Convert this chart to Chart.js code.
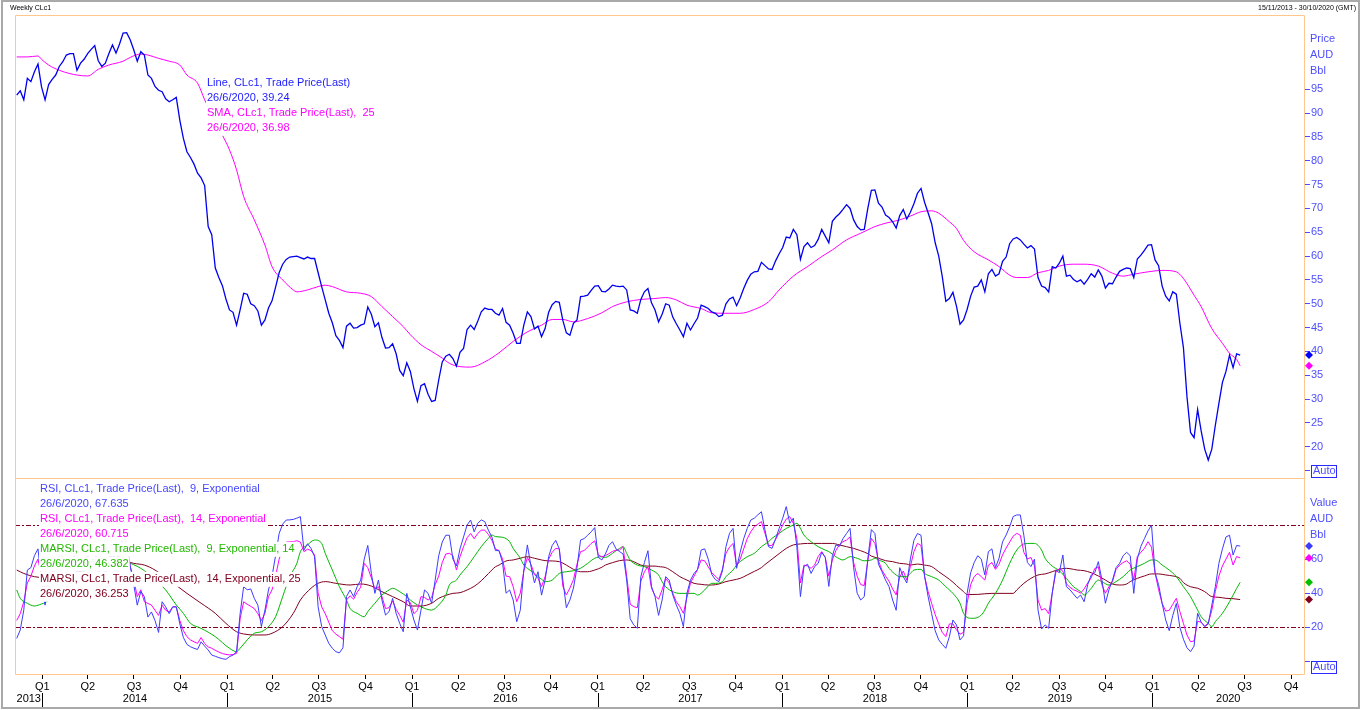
<!DOCTYPE html>
<html>
<head>
<meta charset="utf-8">
<title>Weekly CLc1</title>
<script src="https://cdn.jsdelivr.net/npm/chart.js@4.4.1/dist/chart.umd.min.js"></script>
<style>
  html, body { margin: 0; padding: 0; background: #fff; overflow: hidden; }
  #wrap { position: relative; width: 1362px; height: 710px; }
</style>
</head>
<body>
<div id="wrap"><canvas id="clc1" width="1362" height="710"></canvas></div>
<script>
/*
  Weekly CLc1 (crude oil, AUD/Bbl) with 25 week SMA,
  and RSI 9 / RSI 14 with their moving averages underneath.
  Weekly closes, first one 15/11/2013, range ends 30/10/2020.
*/

const startDate = Date.UTC(2013, 10, 15);
const endDate = Date.UTC(2020, 9, 30);

/* weekly closes, one per week from startDate */
const priceLine = [
  93.8, 94.7, 92.8, 97.3, 96.6, 98.7, 100.3, 95.5, 92.8, 96.0,
  97.1, 98.0, 99.8, 100.8, 102.2, 102.5, 102.5, 99.0, 100.5, 101.3,
  102.5, 103.4, 104.2, 101.0, 99.8, 100.5, 102.5, 104.3, 102.6, 104.5,
  106.8, 106.9, 105.4, 103.3, 100.9, 102.9, 102.2, 98.0, 97.3, 95.6,
  94.8, 94.5, 93.0, 92.4, 92.8, 93.3, 88.5, 84.7, 81.9, 80.7,
  79.3, 77.4, 76.4, 74.8, 66.2, 64.5, 57.5, 55.5, 53.8, 51.0,
  48.7, 48.2, 45.5, 48.7, 52.2, 52.0, 50.0, 49.6, 48.5, 45.5,
  46.6, 49.1, 50.6, 53.5, 56.5, 58.3, 59.3, 59.8, 59.9, 60.0,
  59.7, 59.4, 59.8, 59.5, 59.5, 56.5, 53.6, 50.8, 48.0, 46.0,
  43.3, 42.3, 40.8, 45.3, 45.9, 44.9, 45.0, 45.5, 45.8, 49.3,
  47.8, 45.2, 46.0, 42.9, 40.7, 40.8, 41.6, 39.5, 36.0, 34.9,
  37.6, 35.8, 32.2, 29.5, 32.8, 33.2, 31.0, 29.5, 29.7, 34.0,
  37.8, 39.0, 39.4, 38.5, 36.9, 39.8, 40.6, 44.6, 45.5, 44.6,
  46.3, 48.3, 49.1, 48.8, 48.8, 48.0, 47.6, 49.0, 46.1, 45.5,
  43.8, 41.7, 41.7, 45.5, 48.3, 47.3, 44.7, 45.3, 43.1, 44.8,
  48.2, 49.8, 50.5, 50.3, 46.5, 43.9, 43.4, 45.9, 46.6, 51.5,
  51.6, 51.8, 52.8, 53.7, 53.8, 52.6, 52.5, 53.1, 53.9, 53.7,
  53.6, 53.7, 52.9, 48.7, 48.5, 48.0, 50.9, 52.5, 53.2, 50.2,
  48.7, 46.2, 47.8, 50.0, 49.7, 47.2, 45.8, 44.5, 43.1, 45.9,
  44.5, 45.8, 47.0, 49.7, 49.4, 49.0, 48.3, 48.0, 47.3, 47.6,
  50.0, 51.0, 51.4, 49.6, 51.2, 53.2, 54.9, 56.2, 56.7, 56.8,
  58.7, 58.0, 57.3, 57.2, 59.0, 60.5, 61.8, 64.0, 63.8, 65.6,
  64.5, 59.3, 62.0, 62.8, 61.8, 62.2, 63.5, 65.6, 64.2, 62.8,
  67.3, 68.2, 68.9, 69.8, 70.8, 70.0, 67.6, 66.2, 65.5, 65.6,
  70.0, 73.8, 73.9, 71.1, 70.3, 68.6, 68.1, 67.2, 65.9, 68.5,
  69.8, 67.8, 69.2, 71.0, 73.2, 74.2, 71.3, 69.1, 66.8, 62.8,
  60.0, 55.7, 50.5, 51.1, 52.4, 49.5, 45.7, 46.6, 48.8, 51.6,
  53.5, 53.7, 55.0, 52.5, 56.3, 57.2, 55.8, 56.3, 58.9, 59.8,
  62.6, 63.6, 63.9, 63.4, 62.5, 61.7, 62.2, 61.5, 55.5, 53.7,
  53.4, 52.5, 57.8, 57.5, 58.5, 60.0, 55.8, 56.0, 55.1, 54.6,
  55.0, 54.1, 55.1, 56.3, 55.6, 57.1, 55.8, 53.3, 54.3, 54.2,
  55.6, 56.8, 57.2, 57.5, 57.4, 55.5, 59.4, 60.2, 61.2, 62.3,
  62.4, 59.2, 58.0, 53.7, 51.6, 50.6, 52.5, 52.0, 45.9, 40.8,
  30.5, 23.0, 21.9, 27.8, 23.3, 19.5, 17.2, 19.5, 24.5, 29.1,
  33.5, 35.8, 39.2, 36.6, 39.5, 39.24
];

/* 25 week SMA, read as [week, value] */
const priceSMA25 = [
  [0, 101.8], [3, 101.8], [6, 102.0], [7, 101.3], [9, 100.1], [12, 99.0], [15, 98.3],
  [17, 98.0], [20, 97.8], [23, 99.2], [26, 100.1], [30, 100.9], [32, 101.7], [35, 102.4],
  [37, 102.2], [40, 101.5], [43, 100.9], [46, 100.1], [48, 98.0], [51, 96.3], [53, 92.8],
  [58, 85.4], [60, 82.3], [62, 78.1], [64, 72.5], [67, 67.6], [70, 62.3], [72, 57.8],
  [75, 55.0], [78, 52.9], [79, 52.5], [82, 52.9], [85, 53.6], [87, 53.9], [89, 53.6],
  [93, 52.5], [97, 52.2], [100, 51.5], [103, 49.4], [106, 47.3], [109, 45.2], [111, 43.5],
  [114, 41.4], [117, 40.0], [120, 38.6], [122, 37.5], [125, 36.8], [128, 36.7], [132, 37.8],
  [136, 39.7], [140, 42.1], [144, 44.1], [148, 45.5], [151, 46.7], [154, 46.7], [157, 46.2],
  [161, 46.9], [165, 48.1], [168, 49.4], [172, 50.4], [176, 50.9], [180, 51.1], [183, 51.3],
  [186, 50.8], [189, 49.7], [193, 49.0], [196, 48.1], [200, 48.0], [204, 48.0], [208, 48.8],
  [212, 50.4], [215, 52.9], [219, 55.8], [223, 57.8], [227, 59.9], [230, 61.3], [234, 63.4],
  [238, 64.8], [240, 65.5], [242, 66.2], [245, 66.9], [249, 67.6], [252, 68.4], [255, 69.3],
  [258, 69.5], [260, 69.0], [263, 67.2], [265, 65.8], [267, 63.3], [270, 60.9], [274, 59.2],
  [277, 57.8], [280, 56.0], [282, 55.5], [285, 55.5], [288, 56.5], [291, 57.0], [294, 57.9],
  [298, 58.3], [301, 58.3], [305, 57.9], [309, 56.4], [312, 55.8], [315, 56.2], [319, 56.7],
  [323, 57.0], [327, 56.7], [329, 55.3], [332, 51.8], [334, 49.4], [337, 44.8], [340, 41.7],
  [342, 39.6], [344, 38.3], [345, 36.98]
];

/* RSI 9 and RSI 14 (exponential), one per week */
const rsi9 = [
  13.5, 18.4, 30.1, 53.6, 55, 62, 66, 47, 33, 45,
  50, 55, 62, 65, 70, 68, 66, 48, 56, 55,
  63, 67, 68, 52, 46, 50, 60, 66, 58, 66,
  72, 70, 56, 45, 33, 41, 38, 26, 29, 24,
  17, 35, 32, 28, 32, 32, 22, 14, 10, 8.6,
  7.7, 7.0, 11.5, 9, 6.7, 3.7, 3.0, 2.2, 1.6, 1.2,
  2.8, 3.7, 5.7, 28, 43.8, 42, 42.5, 37, 33, 20.4,
  30.1, 41.9, 50, 62, 75, 80.5, 82.9, 83, 83.3, 84,
  84.9, 65.3, 69, 66.3, 61.4, 32, 20.4, 15.5, 10.6, 7.7,
  5.7, 5.0, 8, 38, 41.9, 38.0, 43.8, 47.7, 60, 68,
  51.6, 39.9, 47.7, 36.0, 27.2, 29.2, 37.0, 28.2, 22.3, 17.4,
  39.9, 32.1, 24.3, 18.4, 30, 41.9, 39.9, 34.1, 47.7, 62,
  70, 74, 74, 60, 56, 66, 73, 80, 82.9, 76,
  81, 83, 82, 77, 73, 65, 65, 58, 40, 41.9,
  36.0, 23.3, 30, 53.6, 68.3, 56, 46, 52.6, 38.9, 47.7,
  61.4, 68, 71, 66, 47.7, 31.5, 36, 43, 55, 71.2,
  72, 74, 76, 78.5, 61, 59.5, 63, 68, 70.2, 66,
  64.4, 63, 47.7, 25, 21.4, 19.4, 49.7, 58, 64.9, 44,
  38.0, 27, 36, 49.7, 47.7, 39, 33.1, 28.2, 20.4, 40,
  47.7, 51.6, 54, 65.3, 66, 60, 51, 48, 46.8, 53,
  67.3, 75.1, 78, 54.6, 64, 72, 78, 82.9, 84, 86,
  87.8, 77.1, 67.3, 66.3, 72, 78, 84, 90.8, 81, 84,
  67, 38, 55.6, 57, 51.6, 55.6, 57.5, 64, 61, 44,
  62, 68.3, 67.5, 72, 75, 78, 55, 40, 36, 38,
  60, 77.3, 75, 57, 52.6, 47.7, 43.8, 36, 30, 55,
  49.7, 46, 60, 71, 75, 74, 50, 38, 28, 18,
  12.6, 10, 7.7, 14.5, 24.3, 21.4, 12.6, 15, 39.9, 52,
  58, 62, 60, 50.7, 64.4, 66, 55, 60.5, 70.2, 74.1,
  79, 85, 85.9, 85.9, 74, 58, 55.6, 60, 30.1, 19,
  21.4, 19.4, 40, 53.6, 52, 62.4, 43.8, 42, 39.5, 37,
  38.9, 35, 45, 50.7, 52, 58.5, 48, 34.1, 42, 47.7,
  55, 57.5, 62, 64, 62, 39.9, 60, 67.5, 72, 76.5,
  80, 52, 45, 34, 24.3, 18, 27, 34, 20, 13,
  8, 5.7, 9, 28.2, 23, 20.4, 22, 33, 43.8, 57.5,
  66, 73, 74, 62.4, 68, 67.635
];

const rsi14 = [
  24, 28, 35, 46, 50, 56, 60, 50, 42, 48,
  52, 55, 60, 62, 66, 65, 64, 52, 57, 56,
  61, 64, 65, 54, 50, 53, 59, 63, 57, 63,
  68, 68, 56, 48, 38, 42, 35, 34, 33, 30,
  27, 33, 30, 29, 32, 32, 24, 18, 14.5, 12.6,
  11.5, 10.6, 14, 10.5, 8.5, 7.7, 6.5, 5.5, 4.6, 4.1,
  3.8, 4, 4.7, 25, 35, 33.5, 32.3, 31, 28, 24,
  28.2, 38, 42, 50, 60, 66, 70, 70.2, 70.2, 70.8,
  70, 64.4, 65.8, 65, 62.4, 40, 32, 28, 23, 18,
  16, 14.5, 13, 36, 38.5, 36.5, 40.5, 43.5, 57.5, 55,
  49, 42.5, 43.8, 38, 31, 31.5, 35.5, 30.5, 27, 23,
  36, 34.5, 28, 30, 38, 37.5, 36, 37.5, 45, 50,
  58, 63, 63.4, 62, 53.6, 61.4, 67.3, 72.5, 75, 72,
  75, 77, 77, 74.5, 71, 66, 65, 60, 50, 49.7,
  43.8, 35, 40, 53, 61, 57, 51, 48.7, 43.8, 49.7,
  60, 64, 66.3, 66, 44, 39, 43, 48, 57, 64.4,
  65, 67, 69.2, 70.7, 62.4, 61.4, 62, 63.2, 64.5, 65.3,
  65.3, 67.3, 50, 33.5, 32.1, 31.5, 47, 52.6, 55.6, 43,
  38.5, 36.5, 42, 48.7, 46, 40, 35, 32.1, 28.2, 37.5,
  46, 50, 54, 59.5, 59, 55.5, 52, 50, 48, 54,
  63.4, 67, 69.2, 56, 60, 66, 72, 76, 79, 80.5,
  82, 75.1, 68, 68, 71.5, 75.5, 80, 83.5, 84.9, 81,
  72, 46, 56.5, 56, 54.6, 56.5, 61.5, 64.4, 61, 50,
  59.5, 65, 68.5, 70.2, 71.2, 73, 58, 50, 45, 44.5,
  59, 72.2, 69.2, 59, 53.5, 50, 47, 42.5, 39, 49.7,
  53, 47.7, 55.6, 64.4, 69.2, 68, 50, 41, 34, 27.5,
  22, 17, 14.5, 22, 22, 18.5, 16, 17, 34, 45,
  49.7, 51.6, 49.7, 47.7, 56.5, 58, 54, 57, 62.5, 66.5,
  70, 73.5, 75.1, 74, 64, 60, 61, 56, 36, 30.1,
  31, 28, 40, 52, 54.5, 53, 45.5, 43.5, 42, 41.2,
  40, 42.5, 46, 49, 54.5, 55.5, 45, 40, 43.8, 46.8,
  54, 56.5, 58, 59, 57, 48, 61.5, 64, 66.3, 70.2,
  67, 52, 42, 34, 29.5, 30, 33.5, 37, 29.2, 22.3,
  15.5, 11.5, 12, 23.5, 23, 20.6, 22.5, 30, 41, 50,
  56, 60, 64, 56.5, 61.5, 60.715
];

/* moving averages of the RSIs, read as [week, value] */
const marsi9 = [
  [0, 41.9], [1, 37.0], [3, 34.1], [5, 32.5], [7, 33.7], [8, 34.5], [12, 40], [16, 48],
  [20, 54], [24, 58], [28, 59], [32, 57.5], [36, 53.2], [42, 41.9], [45, 33.1], [47, 28.2],
  [49, 22.3], [52, 19.4], [56, 14.5], [60, 7.7], [62, 5.7], [63, 7.7], [65, 12.6], [67, 16.5],
  [69, 17.4], [71, 20.4], [73, 26.2], [75, 38.0], [77, 49.7], [79, 57.5], [80, 64.4], [82, 68.3],
  [84, 71.2], [86, 69.2], [87, 63.4], [89, 53.6], [91, 43.8], [93, 36.0], [94, 31.1], [96, 28.2],
  [98, 26.2], [99, 29.2], [101, 34.1], [103, 38.9], [105, 41.9], [106, 42.9], [108, 40.9],
  [110, 38.0], [111, 36.0], [113, 33.1], [115, 31.1], [117, 30.1], [119, 33.1], [121, 38.9],
  [122, 44.8], [124, 47.7], [125, 50.7], [127, 55.6], [129, 61.4], [131, 67.3], [133, 72.2],
  [134, 74.1], [135, 73.2], [137, 72.8], [139, 70.2], [140, 66.3], [142, 60.5], [143, 56.5],
  [144, 54.6], [146, 51.6], [148, 48.1], [149, 46.8], [151, 47.7], [153, 51.6], [155, 52.6],
  [157, 53.2], [159, 54.6], [161, 57.5], [163, 60.5], [165, 61.4], [166, 61.0], [168, 63.4],
  [170, 66.3], [171, 67.3], [172, 63.4], [173, 59.5], [175, 56.5], [177, 55.6], [179, 53.6],
  [181, 50.7], [182, 46.8], [183, 43.8], [185, 40.9], [187, 39.9], [189, 39.9], [191, 39.9],
  [192, 38.9], [194, 41.9], [195, 44.2], [196, 45.8], [197, 45.8], [199, 46.8], [200, 49.7],
  [202, 53.6], [203, 56.5], [204, 58.5], [206, 61.4], [208, 63.4], [210, 67.3], [212, 70.2],
  [213, 72.2], [215, 75.1], [217, 78.0], [219, 80.0], [220, 81.0], [221, 78.0], [222, 74.1],
  [224, 70.2], [226, 67.3], [228, 65.3], [229, 64.4], [231, 61.4], [233, 59.5], [235, 61.4],
  [237, 60.5], [239, 59.0], [241, 59.5], [242, 60.5], [243, 59.5], [245, 57.5], [246, 54.6],
  [248, 50.7], [249, 49.7], [251, 49.7], [252, 51.6], [253, 53.6], [255, 54.0], [256, 51.6],
  [258, 49.7], [260, 47.7], [262, 43.8], [264, 39.9], [266, 34.1], [267, 28.2], [269, 25.3],
  [270, 25.3], [272, 27.2], [273, 30.1], [274, 34.1], [276, 39.9], [278, 47.7], [280, 57.5],
  [282, 65.3], [284, 68.9], [286, 69.2], [287, 69.2], [289, 65.3], [290, 60.5], [292, 55.9],
  [294, 53.2], [296, 48.7], [298, 43.8], [300, 40.9], [301, 38.9], [303, 42.9], [305, 47.7],
  [306, 46.8], [308, 44.8], [310, 46.8], [312, 49.7], [314, 53.6], [316, 55.6], [318, 57.5],
  [320, 59.5], [321, 59.5], [323, 56.5], [325, 53.6], [327, 49.7], [329, 43.8], [331, 38.0],
  [333, 30.1], [334, 26.2], [336, 22.3], [337, 20.4], [338, 23.3], [340, 28.2], [342, 35.0],
  [344, 42.8], [345, 46.382]
];

const marsi14 = [
  [0, 53.6], [2, 51.6], [5, 49.7], [10, 49], [15, 51], [20, 54], [25, 56.5], [28, 58],
  [31, 58.5], [33, 57.5], [36, 56.5], [39, 53.6], [48, 39.9], [52, 34.1], [56, 28.2],
  [59, 22.3], [62, 17.4], [64, 16.1], [67, 15.5], [70, 15.5], [72, 16.5], [75, 20.4],
  [78, 28.2], [80, 36.0], [83, 42.9], [85, 45.8], [87, 46.8], [90, 45.8], [94, 44.8],
  [97, 45.4], [100, 44.2], [103, 40.9], [106, 38.0], [109, 35.0], [111, 32.5], [114, 32.5],
  [117, 34.1], [119, 37.0], [121, 38.7], [123, 39.9], [125, 40.3], [127, 41.9], [129, 44.0],
  [131, 47.3], [133, 51.5], [135, 55.5], [136, 56.5], [138, 58.9], [140, 59.5], [142, 60.5],
  [144, 61.4], [146, 60.5], [148, 59.5], [149, 59.1], [151, 58.9], [153, 58.5], [155, 56.5],
  [157, 54.0], [159, 52.6], [161, 52.6], [163, 53.6], [165, 55.2], [166, 56.5], [168, 57.9],
  [170, 59.1], [172, 59.5], [174, 58.5], [176, 56.5], [178, 55.9], [180, 55.9], [181, 55.6],
  [183, 55.0], [185, 52.6], [187, 49.7], [189, 47.7], [191, 45.8], [193, 45.2], [195, 44.8],
  [196, 44.8], [198, 45.4], [200, 46.8], [202, 47.7], [204, 48.7], [206, 50.7], [208, 52.8],
  [210, 55.0], [211, 56.8], [213, 60.0], [215, 63.2], [217, 66.3], [219, 68.3], [221, 68.9],
  [223, 69.2], [227, 69.2], [230, 69.2], [232, 68.3], [234, 67.3], [236, 66.3], [238, 64.9],
  [240, 63.2], [241, 61.8], [243, 60.5], [245, 59.1], [247, 58.5], [249, 57.5], [251, 57.1],
  [252, 56.5], [254, 57.1], [256, 56.5], [258, 55.6], [260, 52.6], [262, 49.7], [264, 46.5],
  [265, 44.5], [267, 40.9], [268, 39.2], [271, 39.3], [275, 39.9], [279, 39.9], [281, 39.9],
  [282, 41.9], [284, 45.8], [286, 48.7], [288, 50.7], [290, 51.3], [292, 52.6], [294, 54.0],
  [296, 54.6], [298, 54.0], [299, 53.6], [301, 53.2], [303, 52.0], [305, 50.1], [307, 47.7],
  [309, 45.4], [311, 44.8], [313, 45.4], [314, 46.8], [316, 48.7], [318, 50.1], [320, 51.3],
  [322, 51.3], [324, 50.7], [326, 50.1], [328, 48.7], [329, 46.2], [331, 43.8], [333, 42.9],
  [335, 40.9], [337, 38.0], [339, 37.6], [341, 37.0], [343, 36.8], [345, 36.253]
];

const quarterNames = ['Q1', 'Q2', 'Q3', 'Q4'];
const yearLabels = [2013, 2014, 2015, 2016, 2017, 2018, 2019, 2020];
const priceTicks = [15, 20, 25, 30, 35, 40, 45, 50, 55, 60, 65, 70, 75, 80, 85, 90, 95];
const rsiTicks = [0, 20, 40, 60];
const rsiBands = [80, 20];

/* ---- helpers ---- */
const DAY = 864e5;
const toWeek = (t) => (t - startDate) / (7 * DAY);
const fmtDate = (t) => {
  const d = new Date(t);
  return d.getUTCDate() + '/' + (d.getUTCMonth() + 1) + '/' + d.getUTCFullYear();
};
const lastOf = (arr) => {
  const v = arr[arr.length - 1];
  return Array.isArray(v) ? v[1] : v;
};

const xMin = -0.48;            // plot starts half a week before the first close
const xMax = toWeek(endDate);
const lastDate = fmtDate(startDate + (priceLine.length - 1) * 7 * DAY);

// quarter ticks sit half a week after the quarter starts, like the source terminal
const quarterTicks = [];
for (let y = 2014; y <= 2020; y++) {
  for (let q = 0; q < 4; q++) {
    const w = toWeek(Date.UTC(y, q * 3, 1)) + 0.5;
    if (w <= xMax) quarterTicks.push({ value: w, label: quarterNames[q], year: y, q: q });
  }
}

const ORANGE = '#ffc78c';
const AXIS_BLUE = '#4e4eff';
const FONT = '"Liberation Sans", Arial, sans-serif';

const weekly = (arr) => arr.map((v, i) => ({ x: i, y: v }));
const pairs = (arr) => arr.map((p) => ({ x: p[0], y: p[1] }));

const line = (label, data, color, width, yAxisID, smooth) => ({
  label: label,
  data: data,
  yAxisID: yAxisID,
  borderColor: color,
  borderWidth: width,
  pointRadius: 0,
  fill: false,
  tension: 0,
  cubicInterpolationMode: smooth ? 'monotone' : 'default',
});

const series = [
  { name: 'Line', data: priceLine, color: '#0000ee', mark: '#0000ff', text: '#1c1cff', axis: 'yPrice' },
  { name: 'SMA', data: priceSMA25, color: '#ff00ff', mark: '#ff00ff', text: '#ff00ff', axis: 'yPrice' },
  { name: 'RSI9', data: rsi9, color: '#3c3cff', mark: '#3c3cff', text: '#4646ff', axis: 'yRsi' },
  { name: 'RSI14', data: rsi14, color: '#ff00ff', mark: '#ff00ff', text: '#ff00ff', axis: 'yRsi' },
  { name: 'MARSI9', data: marsi9, color: '#00b800', mark: '#00c000', text: '#22b800', axis: 'yRsi' },
  { name: 'MARSI14', data: marsi14, color: '#800020', mark: '#800020', text: '#800020', axis: 'yRsi' },
];

const datasets = [
  line('Line', weekly(priceLine), series[0].color, 1.3, 'yPrice', false),
  line('SMA 25', pairs(priceSMA25), series[1].color, 1, 'yPrice', true),
  line('RSI 9', weekly(rsi9), series[2].color, 1, 'yRsi', false),
  line('RSI 14', weekly(rsi14), series[3].color, 1, 'yRsi', false),
  line('MARSI 9', pairs(marsi9), series[4].color, 1, 'yRsi', true),
  line('MARSI 14', pairs(marsi14), series[5].color, 1, 'yRsi', true),
];

/* white-backed legend rows, like the terminal overlays */
function legendRows(ctx, x, y0, rows) {
  ctx.font = '11px ' + FONT;
  ctx.textAlign = 'left';
  ctx.textBaseline = 'middle';
  rows.forEach((r, i) => {
    const y = y0 + i * 15;
    const w = ctx.measureText(r.text).width;
    ctx.fillStyle = '#fff';
    ctx.fillRect(x - 1, y - 7.5, w + 2, 15);
    ctx.fillStyle = r.color;
    ctx.fillText(r.text, x, y);
  });
}

function diamond(ctx, x, y, color) {
  ctx.fillStyle = color;
  ctx.beginPath();
  ctx.moveTo(x, y - 4);
  ctx.lineTo(x + 4, y);
  ctx.lineTo(x, y + 4);
  ctx.lineTo(x - 4, y);
  ctx.closePath();
  ctx.fill();
}

const overlay = {
  id: 'overlay',
  beforeDraw(chart) {
    const ctx = chart.ctx;
    ctx.save();
    ctx.fillStyle = '#fff';
    ctx.fillRect(0, 0, chart.width, chart.height);
    ctx.restore();
  },
  beforeDatasetsDraw(chart) {
    const ctx = chart.ctx, a = chart.chartArea, yr = chart.scales.yRsi;
    ctx.save();
    ctx.strokeStyle = '#800020';
    ctx.lineWidth = 1;
    ctx.setLineDash([5, 2, 2, 2]);
    rsiBands.forEach((v) => {
      const y = Math.round(yr.getPixelForValue(v)) + 0.5;
      ctx.beginPath();
      ctx.moveTo(a.left, y);
      ctx.lineTo(a.right, y);
      ctx.stroke();
    });
    ctx.restore();
  },
  afterDatasetsDraw(chart) {
    const ctx = chart.ctx, a = chart.chartArea;
    const xs = chart.scales.x, yp = chart.scales.yPrice, yr = chart.scales.yRsi;
    ctx.save();

    // panel frames
    ctx.strokeStyle = ORANGE;
    ctx.lineWidth = 1;
    ctx.beginPath();
    ctx.rect(a.left + 0.5, a.top + 0.5, a.right - a.left, a.bottom - a.top);
    ctx.moveTo(a.left, Math.round(yp.bottom) + 0.5);
    ctx.lineTo(a.right + 1, Math.round(yp.bottom) + 0.5);
    ctx.stroke();

    // legends
    legendRows(ctx, a.left + 192, a.top + 68.3, [
      { text: 'Line, CLc1, Trade Price(Last)', color: series[0].text },
      { text: lastDate + ', ' + lastOf(priceLine), color: series[0].text },
      { text: 'SMA, CLc1, Trade Price(Last),  25', color: series[1].text },
      { text: lastDate + ', ' + lastOf(priceSMA25), color: series[1].text },
    ]);
    legendRows(ctx, a.left + 25, yr.top + 11.3, [
      { text: 'RSI, CLc1, Trade Price(Last),  9, Exponential', color: series[2].text },
      { text: lastDate + ', ' + lastOf(rsi9), color: series[2].text },
      { text: 'RSI, CLc1, Trade Price(Last),  14, Exponential', color: series[3].text },
      { text: lastDate + ', ' + lastOf(rsi14), color: series[3].text },
      { text: 'MARSI, CLc1, Trade Price(Last),  9, Exponential, 14', color: series[4].text },
      { text: lastDate + ', ' + lastOf(marsi9), color: series[4].text },
      { text: 'MARSI, CLc1, Trade Price(Last),  14, Exponential, 25', color: series[5].text },
      { text: lastDate + ', ' + lastOf(marsi14), color: series[5].text },
    ]);

    // last-value markers on the axes
    series.forEach((s) => {
      const sc = s.axis === 'yPrice' ? yp : yr;
      diamond(ctx, a.right + 5, sc.getPixelForValue(lastOf(s.data)), s.mark);
    });

    // axis titles
    ctx.font = '11px ' + FONT;
    ctx.fillStyle = AXIS_BLUE;
    ctx.textAlign = 'left';
    ctx.textBaseline = 'middle';
    ['Price', 'AUD', 'Bbl'].forEach((t, i) => ctx.fillText(t, a.right + 6, yp.top + 24 + 16 * i));
    ['Value', 'AUD', 'Bbl'].forEach((t, i) => ctx.fillText(t, a.right + 6, yr.top + 25 + 16 * i));

    // "Auto" boxes at the bottom of each value axis
    const autoBox = (y) => {
      ctx.strokeStyle = '#2a2aff';
      ctx.strokeRect(a.right + 7.5, Math.round(y - 6) + 0.5, 25, 12);
      ctx.fillStyle = AXIS_BLUE;
      ctx.fillText('Auto', a.right + 9, y + 0.5);
    };
    autoBox(yp.getPixelForValue(priceTicks[0]));
    autoBox(yr.getPixelForValue(rsiTicks[0]) + 5.5);

    // year row under the quarter labels
    ctx.strokeStyle = '#000';
    ctx.fillStyle = '#000';
    ctx.textAlign = 'center';
    const yearStart = {};
    quarterTicks.filter((t) => t.q === 0).forEach((t) => {
      const px = Math.round(xs.getPixelForValue(t.value)) + 0.5;
      yearStart[t.year] = px;
      ctx.beginPath();
      ctx.moveTo(px, a.bottom + 19);
      ctx.lineTo(px, a.bottom + 33);
      ctx.stroke();
    });
    yearLabels.forEach((y) => {
      const l = yearStart[y] !== undefined ? yearStart[y] : a.left;
      const r = yearStart[y + 1] !== undefined ? yearStart[y + 1] : a.right;
      ctx.fillText(String(y), (l + r) / 2, a.bottom + 25);
    });

    // header and outer frame
    ctx.font = '7px ' + FONT;
    ctx.textAlign = 'left';
    ctx.fillText('Weekly CLc1', 10, 8);
    ctx.textAlign = 'right';
    ctx.fillText(fmtDate(startDate) + ' - ' + fmtDate(endDate) + ' (GMT)', 1356, 8);

    ctx.strokeStyle = '#a9a9a9';
    ctx.lineWidth = 2;
    ctx.strokeRect(2, 1, 1357, 707);
    ctx.restore();
  },
};

Chart.defaults.font.family = FONT;

new Chart(document.getElementById('clc1').getContext('2d'), {
  type: 'line',
  data: { datasets: datasets },
  options: {
    responsive: false,
    devicePixelRatio: 1,
    animation: false,
    layout: { padding: { top: 15, left: 15, right: 0, bottom: 0 } },
    plugins: { legend: { display: false }, tooltip: { enabled: false } },
    scales: {
      x: {
        type: 'linear',
        min: xMin,
        max: xMax,
        afterBuildTicks: (s) => { s.ticks = quarterTicks.map((t) => ({ value: t.value })); },
        afterFit: (s) => { s.height = 36; },
        ticks: {
          autoSkip: false,
          maxRotation: 0,
          padding: 1,
          color: '#000',
          font: { size: 11 },
          callback: (v, i) => (quarterTicks[i] ? quarterTicks[i].label : ''),
        },
        grid: { drawOnChartArea: false, drawTicks: true, tickLength: 5, color: '#000' },
        border: { display: false },
      },
      yPrice: {
        type: 'linear',
        position: 'right',
        stack: 'panels',
        stackWeight: 463,
        min: 13.43,
        max: 110.6,
        afterBuildTicks: (s) => { s.ticks = priceTicks.map((v) => ({ value: v })); },
        afterFit: (s) => { s.width = 58; },
        ticks: {
          autoSkip: false,
          color: AXIS_BLUE,
          padding: 1,
          font: { size: 11 },
          callback: (v) => (v === priceTicks[0] ? '' : v),
        },
        grid: { drawOnChartArea: false, tickLength: 6, color: AXIS_BLUE },
        border: { display: false },
      },
      yRsi: {
        type: 'linear',
        position: 'right',
        stack: 'panels',
        stackWeight: 196,
        min: -7.39,
        max: 107.57,
        afterBuildTicks: (s) => { s.ticks = rsiTicks.map((v) => ({ value: v })); },
        afterFit: (s) => { s.width = 58; },
        ticks: {
          autoSkip: false,
          color: AXIS_BLUE,
          padding: 1,
          font: { size: 11 },
          callback: (v) => (v === rsiTicks[0] ? '' : v),
        },
        grid: { drawOnChartArea: false, tickLength: 6, color: AXIS_BLUE },
        border: { display: false },
      },
    },
  },
  plugins: [overlay],
});
</script>
</body>
</html>
